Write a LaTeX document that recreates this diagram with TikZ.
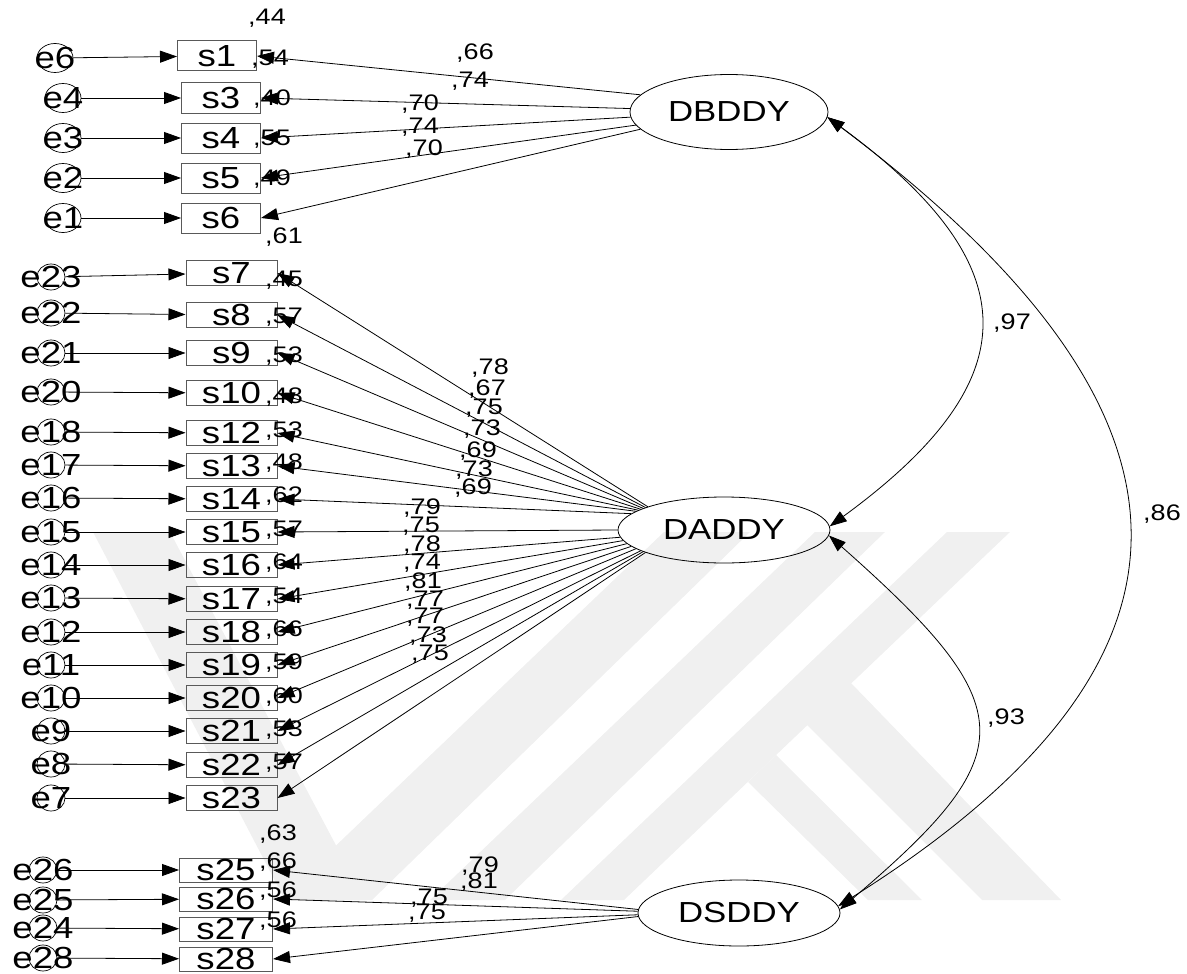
\documentclass[tikz,border=0pt]{standalone}
\usepackage{fontspec}
\setmainfont{Liberation Sans}[FakeStretch=1.2]
\usetikzlibrary{arrows.meta,shapes.geometric}
\newcommand\bigfont{\fontsize{30.5}{32}\selectfont}
\newcommand\latfont{\fontsize{29}{31}\selectfont}
\newcommand\numfont{\fontsize{22.5}{24}\selectfont}
\tikzset{
  lat/.style={ellipse, draw, line width=0.8pt, inner sep=0pt, font=\latfont},
  errA/.style={ellipse, draw, line width=0.7pt, inner sep=0pt, minimum width=36pt, minimum height=29pt},
  errB/.style={errA, minimum width=28pt, minimum height=26pt},
  etxt/.style={font=\bigfont, inner sep=0pt},
  obsA/.style={draw=black!65, line width=1pt, inner sep=0pt, minimum width=79pt, minimum height=30pt, font=\bigfont},
  obsB/.style={obsA, minimum width=91pt, minimum height=25pt},
  obsC/.style={obsA, minimum width=93pt, minimum height=24pt},
  num/.style={font=\numfont, inner sep=0pt},
  arr/.style={line width=0.8pt, -{Triangle[length=17pt,width=12pt]}},
  cov/.style={line width=0.8pt, {Triangle[length=17pt,width=12pt]}-{Triangle[length=17pt,width=12pt]}},
  wm/.style={fill=black!6, draw=none}
}
\begin{document}
\begin{tikzpicture}[x=1pt,y=-1pt]
\useasboundingbox (0,0) rectangle (1187,974);
% watermark
\fill[wm] (93,532) -- (170,532) -- (365,900) -- (285,900) -- cycle;
\fill[wm] (279,900) -- (372,900) -- (750,532) -- (664,532) -- cycle;
\fill[wm] (430,900) -- (505,900) -- (885,532) -- (815,532) -- cycle;
\fill[wm] (561,900) -- (624,900) -- (1010,532) -- (947,532) -- cycle;
\fill[wm] (748,782) -- (776,755) -- (922,900) -- (868,900) -- cycle;
\fill[wm] (851,683) -- (1061,900) -- (982,900) -- (807,725) -- cycle;

% latent variables
\node[lat, minimum width=198pt, minimum height=75pt] (DBDDY) at (729,112) {DBDDY};
\node[lat, minimum width=212pt, minimum height=66pt] (DADDY) at (724,530) {DADDY};
\node[lat, minimum width=202pt, minimum height=66pt] (DSDDY) at (739,913) {DSDDY};

% ---------- top block
\node[obsA] (s1) at (217,56) {s1};
\node[obsA] (s3) at (221,98) {s3};
\node[obsA] (s4) at (221,138) {s4};
\node[obsA] (s5) at (221,178) {s5};
\node[obsA] (s6) at (221,218) {s6};
\node[errA, label={[etxt]center:e6}] (e6) at (55,58) {};
\node[errA, label={[etxt]center:e4}] (e4) at (63,98) {};
\node[errA, label={[etxt]center:e3}] (e3) at (63,138) {};
\node[errA, label={[etxt]center:e2}] (e2) at (63,178) {};
\node[errA, label={[etxt]center:e1}] (e1) at (63,218) {};
\foreach \e/\s in {e6/s1,e4/s3,e3/s4,e2/s5,e1/s6} \draw[arr] (\e) -- (\s);
\draw[arr] (DBDDY.169) -- (s1.east);
\draw[arr] (DBDDY.178) -- (s3.east);
\draw[arr] (DBDDY.183) -- (s4.east);
\draw[arr] (DBDDY.188) -- (s5.east);
\draw[arr] (DBDDY.191) -- (s6.east);
\node[num] (r1) at (267,18) {,44};
\node[num] (r3) at (270,59) {,54};
\node[num] (r4) at (272,99) {,40};
\node[num] (r5) at (272,139) {,55};
\node[num] (r6) at (272,179) {,49};
\node[num] (l1) at (475,53) {,66};
\node[num] (l3) at (470,81) {,74};
\node[num] (l4) at (420,104) {,70};
\node[num] (l5) at (420,127) {,74};
\node[num] (l6) at (424,149) {,70};

% ---------- middle block
\foreach \s/\e/\ye/\ys/\r/\yr/\ang in {
  7/23/277/273/61/237/163,
  8/22/313/315/45/280/164,
  9/21/353/353/57/317/165,
  10/20/392/393/53/356/166,
  12/18/432/433/48/397/167,
  13/17/465/466/53/431/168,
  14/16/498/499/48/463/170,
  15/15/532/532/62/496/180,
  16/14/565/565/57/530/184,
  17/13/598/599/64/563/186,
  18/12/632/632/54/597/188,
  19/11/665/665/66/630/190,
  20/10/698/698/59/663/192,
  21/9/731/731/60/697/194,
  22/8/764/765/53/730/195,
  23/7/798/798/57/763/196}{
  \node[obsB] (s\s) at (231.5,\ys) {s\s};
  \node[errB, label={[etxt]center:e\e}] (e\e) at (51,\ye) {};
  \node[num] (r\s) at (284,\yr) {,\r};
  \draw[arr] (e\e) -- (s\s);
  \draw[arr] (DADDY.\ang) -- (s\s.east);
}
\node[num] (l7) at (490,368) {,78};
\node[num] (l8) at (487,389) {,67};
\node[num] (l9) at (484,408) {,75};
\node[num] (l10) at (482,429) {,73};
\node[num] (l12) at (478,451) {,69};
\node[num] (l13) at (474,470) {,73};
\node[num] (l14) at (473,488) {,69};
\node[num] (l15) at (422,508) {,79};
\node[num] (l16) at (421,526) {,75};
\node[num] (l17) at (422,545) {,78};
\node[num] (l18) at (422,563) {,74};
\node[num] (l19) at (423,582) {,81};
\node[num] (l20) at (425,600) {,77};
\node[num] (l21) at (425,617) {,77};
\node[num] (l22) at (428,636) {,73};
\node[num] (l23) at (430,654) {,75};

% ---------- bottom block
\foreach \s/\e/\ye/\ys/\r/\yr/\ang in {
  25/26/870/870/63/834/178,
  26/25/900/899/66/862/179,
  27/24/928/929/56/891/181,
  28/28/958/959/56/921/182}{
  \node[obsC] (s\s) at (226,\ys) {s\s};
  \node[errB, label={[etxt]center:e\e}] (e\e) at (43,\ye) {};
  \node[num] (r\s) at (278,\yr) {,\r};
  \draw[arr] (e\e) -- (s\s);
  \draw[arr] (DSDDY.\ang) -- (s\s.east);
}
\node[num] (l25) at (480,866) {,79};
\node[num] (l26) at (479,882) {,81};
\node[num] (l27) at (429,898) {,75};
\node[num] (l28) at (427,913) {,75};

% ---------- covariances
\draw[cov] (DBDDY.-3) .. controls (1030,266) and (1030,380) .. (DADDY.2);
\draw[cov] (DBDDY.-3) .. controls (1226,416) and (1226,662) .. (DSDDY.4);
\draw[cov] (DADDY.-3) .. controls (1024,708) and (1024,753) .. (DSDDY.2);
\node[num] (c1) at (1012,323) {,97};
\node[num] (c2) at (1162,514) {,86};
\node[num] (c3) at (1006,718) {,93};
\end{tikzpicture}
\end{document}
